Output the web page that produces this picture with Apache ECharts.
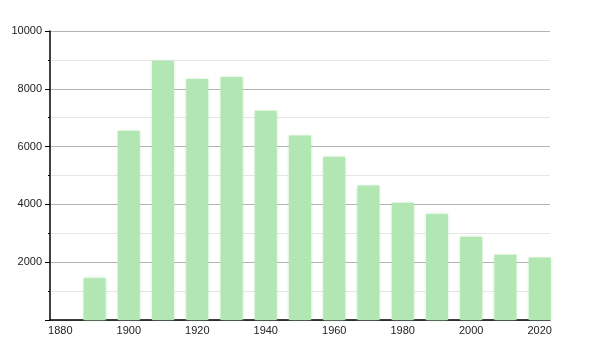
<!DOCTYPE html>
<html><head><meta charset="utf-8">
<script src="https://cdn.jsdelivr.net/npm/echarts@6/dist/echarts.min.js"></script>
<style>html,body{margin:0;padding:0;background:#fff}#c{width:600px;height:350px}</style>
</head><body><div id="c"></div>
<script>
const years = [1890,1900,1910,1920,1930,1940,1950,1960,1970,1980,1990,2000,2010,2020];
const population = [1440,6550,8970,8340,8410,7240,6380,5640,4650,4060,3660,2880,2260,2160];
const yTicks = [2000,4000,6000,8000,10000];
const xLabelYears = [1880,1900,1920,1940,1960,1980,2000,2020];

const chart = echarts.init(document.getElementById('c'));
chart.setOption({
  animation:false,
  grid:{left:50,right:50,top:31,bottom:30,containLabel:false},
  xAxis:{
    type:'value', min:1877, max:2023, interval:1,
    axisLine:{show:true,onZero:false,lineStyle:{color:'#000',width:1.5}},
    axisTick:{show:false},
    splitLine:{show:false},
    axisLabel:{
      showMinLabel:true,showMaxLabel:true,
      formatter:v=> xLabelYears.includes(v)?String(v):'',
      color:'#222',fontSize:11,fontFamily:'Liberation Sans, Arial, sans-serif',margin:5
    }
  },
  yAxis:{
    type:'value', min:0, max:10000, interval:2000,
    axisLine:{show:true,lineStyle:{color:'#000',width:1.5}},
    axisTick:{show:true,length:5,lineStyle:{color:'#000'}},
    minorTick:{show:true,splitNumber:2,length:2,lineStyle:{color:'#000'}},
    splitLine:{show:true,lineStyle:{color:'#b4b4b4',width:1}},
    minorSplitLine:{show:true,lineStyle:{color:'#e6e6e6',width:1}},
    axisLabel:{
      formatter:v=> yTicks.includes(v)?String(v):'',
      color:'#222',fontSize:11,fontFamily:'Liberation Sans, Arial, sans-serif',margin:8
    }
  },
  series:[{
    type:'bar',
    data: years.map((y,i)=>[y,population[i]]),
    barWidth:22,
    itemStyle:{color:'#b2e6b2',shadowColor:'rgba(178,230,178,0.9)',shadowBlur:3},
    z:1
  }]
});
</script></body></html>
